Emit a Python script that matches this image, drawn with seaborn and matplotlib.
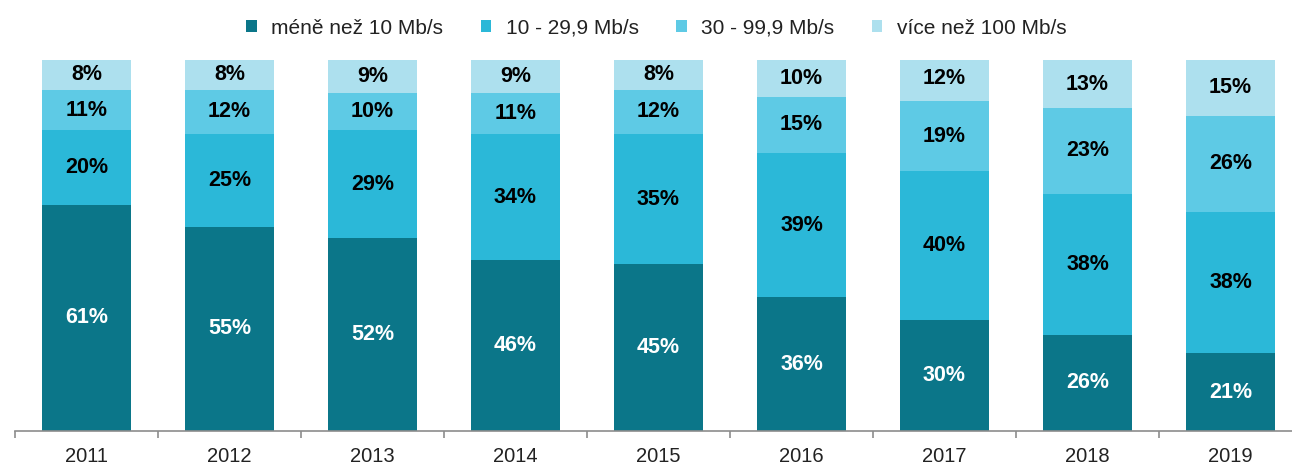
import numpy as np
import pandas as pd
import seaborn as sns
import matplotlib.pyplot as plt
from matplotlib.patches import Patch

# data
years = ['2011', '2012', '2013', '2014', '2015', '2016', '2017', '2018', '2019']
below_10 = [61, 55, 52, 46, 45, 36, 30, 26, 21]
from_10_to_30 = [20, 25, 29, 34, 35, 39, 40, 38, 38]
from_30_to_100 = [11, 12, 10, 11, 12, 15, 19, 23, 26]
above_100 = [8, 8, 9, 9, 8, 10, 12, 13, 15]

series_names = ['méně než 10 Mb/s', '10 - 29,9 Mb/s', '30 - 99,9 Mb/s', 'více než 100 Mb/s']
colors = ['#0b7689', '#2bb8d8', '#5ecae5', '#ade0ee']
label_colors = ['white', 'black', 'black', 'black']

sns.set_style('white')
plt.rcParams['font.family'] = ['Liberation Sans', 'DejaVu Sans']

df = pd.DataFrame({'year': years})
for name, vals in zip(series_names, [below_10, from_10_to_30, from_30_to_100, above_100]):
    df[name] = vals

# cumulative tops for stacking
cum = df[series_names].cumsum(axis=1)

fig = plt.figure(figsize=(12.92, 4.65), dpi=100)
ax = fig.add_axes([15 / 1292, 34 / 465, 1287 / 1292, 371 / 465])

# draw from the tallest layer down so the lower ones sit on top
for i in range(len(series_names) - 1, -1, -1):
    sns.barplot(x=df['year'], y=cum[series_names[i]], color=colors[i],
                width=0.62, saturation=1, ax=ax, edgecolor='none')

# segment labels
for i, name in enumerate(series_names):
    bottoms = cum[name] - df[name]
    for j in range(len(years)):
        ax.text(j, bottoms[j] + df[name][j] / 2, f'{df[name][j]}%',
                ha='center', va='center', fontsize=15.5, fontweight='bold',
                color=label_colors[i])

ax.set_xlim(-0.5, len(years) - 0.5)
ax.set_ylim(0, 100)
ax.set_xlabel('')
ax.set_ylabel('')
ax.set_yticks([])
for s in ['top', 'right', 'left']:
    ax.spines[s].set_visible(False)
ax.spines['bottom'].set_color('#8c8c8c')
ax.spines['bottom'].set_linewidth(1.2)

ax.set_xticks(range(len(years)))
ax.set_xticklabels(years, fontsize=14.5, color='#222222')
ax.tick_params(axis='x', which='major', bottom=False, length=0, pad=11.5)
ax.set_xticks(np.arange(-0.5, len(years)), minor=True)
ax.tick_params(axis='x', which='minor', bottom=True, length=5, width=1.2,
               color='#8c8c8c', direction='out')

handles = [Patch(facecolor=c, edgecolor='none') for c in colors]
fig.legend(handles, series_names, loc='upper center', bbox_to_anchor=(0.508, 1.0),
           ncol=4, frameon=False, fontsize=15, handlelength=0.5, handleheight=0.5,
           handletextpad=0.7, columnspacing=1.8, labelcolor='#222222')

fig.savefig('out.png', dpi=100)
